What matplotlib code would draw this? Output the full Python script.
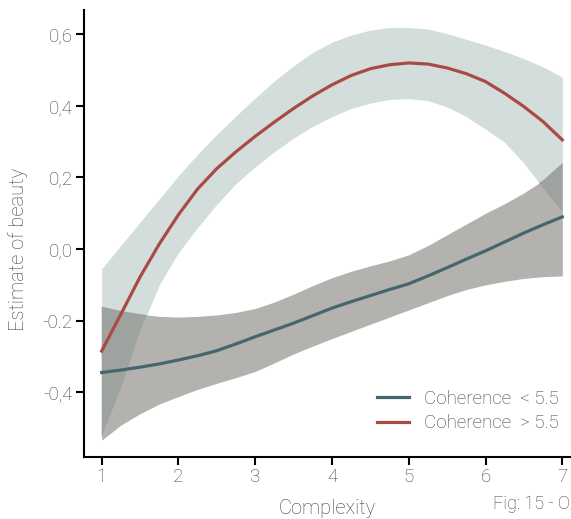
import numpy as np
import matplotlib
matplotlib.use("Agg")
import matplotlib.pyplot as plt

plt.rcParams['font.family'] = ['Roboto', 'DejaVu Sans']
plt.rcParams['font.weight'] = 'light'
plt.rcParams['axes.labelweight'] = 'light'

complexity = [1, 1.25, 1.5, 1.75, 2, 2.25, 2.5, 2.75, 3, 3.25, 3.5, 3.75, 4,
              4.25, 4.5, 4.75, 5, 5.25, 5.5, 5.75, 6, 6.25, 6.5, 6.75, 7]

# Coherence < 5.5
low_fit = [-0.345, -0.338, -0.330, -0.321, -0.310, -0.298, -0.284, -0.265, -0.245,
           -0.226, -0.207, -0.186, -0.165, -0.147, -0.130, -0.113, -0.097, -0.075,
           -0.052, -0.028, -0.005, 0.020, 0.045, 0.068, 0.090]
low_upper = [-0.161, -0.173, -0.182, -0.188, -0.190, -0.188, -0.184, -0.177, -0.166,
             -0.148, -0.126, -0.102, -0.080, -0.062, -0.047, -0.033, -0.016, 0.010,
             0.040, 0.070, 0.100, 0.127, 0.157, 0.192, 0.240]
low_lower = [-0.534, -0.492, -0.460, -0.433, -0.412, -0.392, -0.375, -0.359, -0.342,
             -0.318, -0.293, -0.271, -0.250, -0.230, -0.210, -0.190, -0.170, -0.150,
             -0.130, -0.113, -0.100, -0.090, -0.082, -0.077, -0.075]

# Coherence > 5.5
high_fit = [-0.285, -0.182, -0.078, 0.014, 0.096, 0.168, 0.225, 0.272, 0.315,
            0.355, 0.393, 0.428, 0.459, 0.485, 0.504, 0.515, 0.520, 0.517,
            0.506, 0.490, 0.468, 0.435, 0.398, 0.356, 0.305]
high_upper = [-0.055, 0.010, 0.075, 0.140, 0.205, 0.265, 0.320, 0.372, 0.422,
              0.470, 0.512, 0.550, 0.578, 0.598, 0.612, 0.619, 0.619, 0.615,
              0.602, 0.586, 0.570, 0.552, 0.532, 0.509, 0.480]
high_lower = [-0.525, -0.390, -0.230, -0.100, -0.010, 0.060, 0.125, 0.183, 0.230,
              0.272, 0.310, 0.343, 0.370, 0.393, 0.408, 0.418, 0.420, 0.415,
              0.397, 0.370, 0.335, 0.298, 0.240, 0.170, 0.105]

yticks = [0.6, 0.4, 0.2, 0.0, -0.2, -0.4]
yticklabels = ['0,6', '0,4', '0,2', '0,0', '-0.2', '-0,4']
xticks = [1, 2, 3, 4, 5, 6, 7]

text_color = '#404040'
blue = '#46666f'
red = '#a94b44'

fig = plt.figure(figsize=(5.71, 5.19), dpi=100)
ax = fig.add_axes([84 / 571, 62 / 519, 486 / 571, 447 / 519])

x = np.array(complexity)
ax.fill_between(x, high_lower, high_upper, color='#d3dedc', lw=0)
ax.fill_between(x, low_lower, low_upper, color='#b4b2ae', lw=0)
# overlap of the two bands looks darker (multiply-like)
ov_lo = np.maximum(low_lower, high_lower)
ov_hi = np.minimum(low_upper, high_upper)
ax.fill_between(x, ov_lo, ov_hi, where=ov_hi > ov_lo, interpolate=True,
                color='#9fa39f', lw=0)

ax.plot(x, low_fit, color=blue, lw=2.3, label='Coherence  < 5.5')
ax.plot(x, high_fit, color=red, lw=2.3, label='Coherence  > 5.5')

ax.set_xlim(0.77, 7.1)
ax.set_ylim(-0.581, 0.668)
ax.set_xticks(xticks)
ax.set_yticks(yticks)
ax.set_yticklabels(yticklabels)

for s in ['top', 'right']:
    ax.spines[s].set_visible(False)
for s in ['left', 'bottom']:
    ax.spines[s].set_linewidth(1.5)
    ax.spines[s].set_color('black')
ax.tick_params(direction='out', length=6, width=1.5, color='black',
               labelsize=13.5, labelcolor=text_color, pad=2)

ax.set_xlabel('Complexity', fontsize=14.5, color=text_color, labelpad=9)
ax.set_ylabel('Estimate of beauty', fontsize=14.5, color=text_color)
ax.yaxis.set_label_coords(-0.115, 0.465)

leg = ax.legend(loc='lower right', bbox_to_anchor=(1.0, 0.03), frameon=False,
                fontsize=13.5, handlelength=1.7, handletextpad=0.8, labelspacing=0.35,
                borderaxespad=0.2)
for t in leg.get_texts():
    t.set_color(text_color)

fig.text(0.998, 0.012, 'Fig: 15 - O', ha='right', va='bottom', fontsize=13,
         color=text_color)

fig.savefig('out.png', dpi=100)
